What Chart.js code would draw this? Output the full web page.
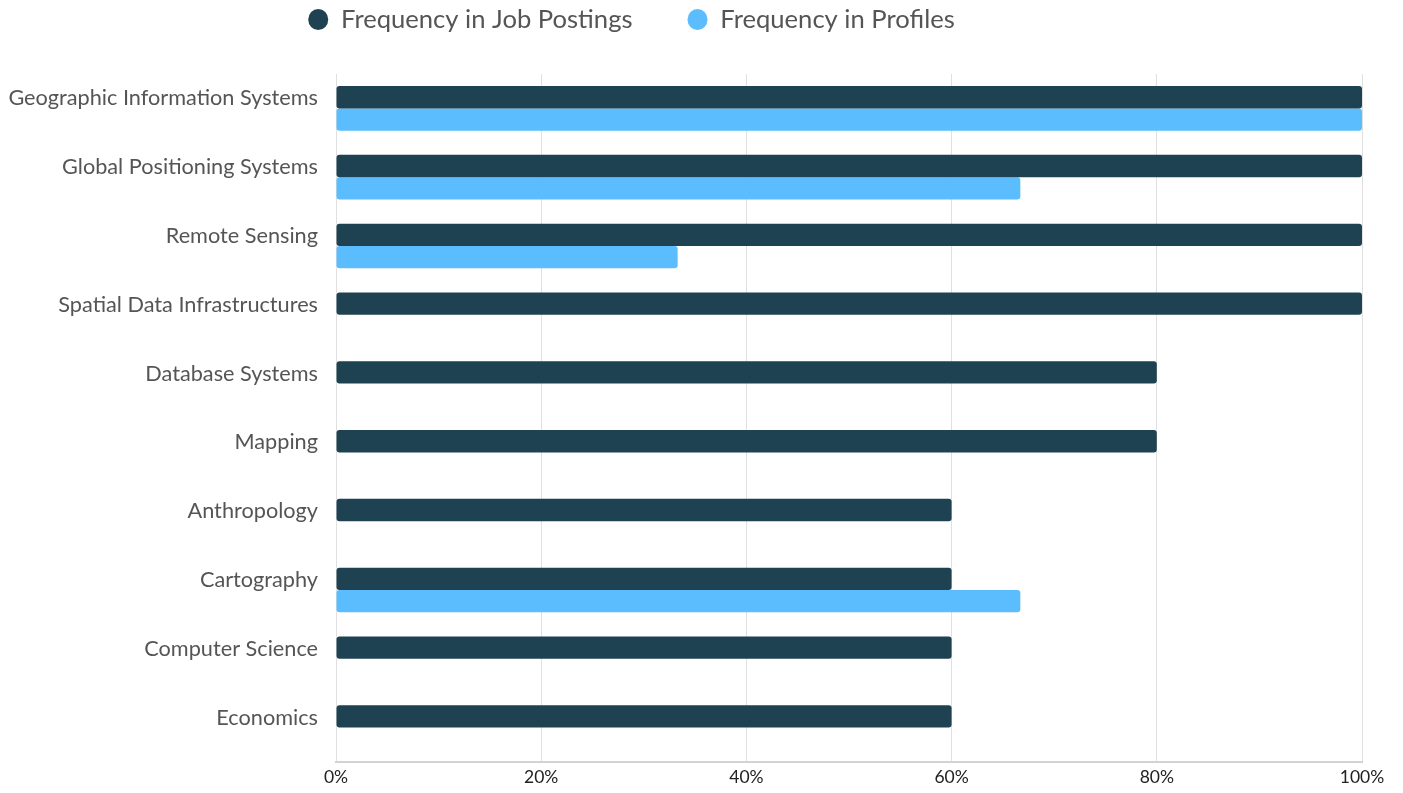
<!DOCTYPE html>
<html>
<head>
<meta charset="utf-8">
<script src="https://cdn.jsdelivr.net/npm/chart.js@4/dist/chart.umd.min.js"></script>
<style>
  html, body { margin: 0; padding: 0; background: #fff; }
  #wrap { width: 1403px; height: 793px; }
</style>
</head>
<body>
<div id="wrap"><canvas id="skills-chart"></canvas></div>
<script>
// skill categories, top to bottom
const skills = [
    'Geographic Information Systems',
    'Global Positioning Systems',
    'Remote Sensing',
    'Spatial Data Infrastructures',
    'Database Systems',
    'Mapping',
    'Anthropology',
    'Cartography',
    'Computer Science',
    'Economics'
];

// share of postings / profiles (0..1)
const jobPostings = [1, 1, 1, 1, 0.8, 0.8, 0.6, 0.6, 0.6, 0.6];
const profiles = [1, 0.667, 0.333, 0, 0, 0, 0, 0.667, 0, 0];

const xTicks = [0, 0.2, 0.4, 0.6, 0.8, 1];

// legend sits above the plot, a bit left of centre
const LEGEND_H = 74;
const LEGEND_PAD = 55;
const legendTweak = {
    id: 'legendTweak',
    beforeInit(chart) {
        const lg = chart.legend;
        const fit = lg.fit;
        lg.fit = function() { fit.call(this); this.height = LEGEND_H; };
    },
    afterLayout(chart) {
        const lg = chart.legend;
        const dy = LEGEND_PAD + 12.8 - 19.5;
        const dx = 54;
        lg.top -= dy;
        lg.left -= dx; lg.right -= dx;
    }
};

const ctx = document.getElementById('skills-chart');

new Chart(ctx.getContext('2d'), {
    type: 'bar',
    data: {
        labels: skills,
        datasets: [
            {
                label: 'Frequency in Job Postings',
                data: jobPostings,
                backgroundColor: '#1f4252',
                borderRadius: 3,
                borderSkipped: false
            },
            {
                label: 'Frequency in Profiles',
                data: profiles,
                backgroundColor: '#5bbdfd',
                borderRadius: 3,
                borderSkipped: false
            }
        ]
    },
    plugins: [legendTweak],
    options: {
        indexAxis: 'y',
        responsive: true,
        maintainAspectRatio: false,
        animation: false,
        layout: { padding: { top: 0, right: 41, bottom: -3, left: 9 } },
        datasets: {
            bar: { barPercentage: 1, categoryPercentage: 0.65 }
        },
        scales: {
            x: {
                min: 0,
                max: 1,
                afterBuildTicks: axis => { axis.ticks = xTicks.map(v => ({ value: v })); },
                grid: { color: '#e0e0e0', lineWidth: 1, drawTicks: false },
                border: { display: true, color: '#d3d3d3', width: 2 },
                ticks: {
                    color: '#222',
                    padding: 4.5,
                    font: { family: 'Lato', size: 17.5 },
                    callback: v => Math.round(v * 100) + '%'
                }
            },
            y: {
                afterFit: axis => { axis.width = 327; },
                grid: { display: false, drawTicks: false },
                border: { display: false },
                ticks: {
                    color: '#555',
                    padding: 18,
                    labelOffset: -10,
                    font: { family: 'Lato', size: 21.7 }
                }
            }
        },
        plugins: {
            legend: {
                position: 'top',
                labels: {
                    usePointStyle: true,
                    pointStyle: 'circle',
                    boxHeight: 15,
                    pointStyleWidth: 20,
                    padding: LEGEND_PAD,
                    color: '#555',
                    font: { family: 'Lato', size: 25.6 }
                }
            },
            tooltip: { enabled: false }
        }
    }
});
</script>
</body>
</html>
